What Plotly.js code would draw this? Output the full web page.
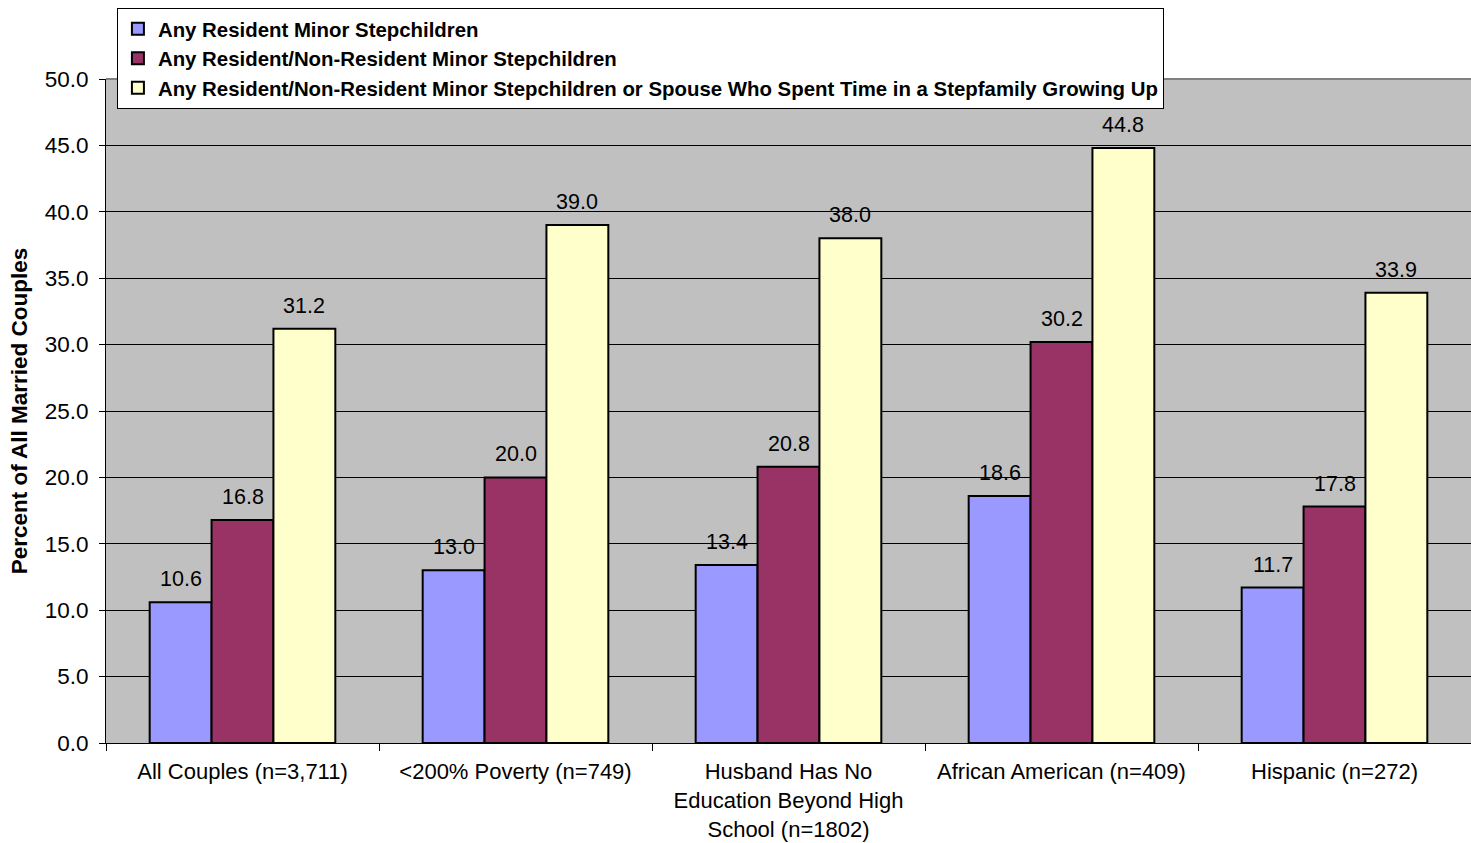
<!DOCTYPE html>
<html><head><meta charset="utf-8">
<script src="https://cdn.plot.ly/plotly-3.0.1.min.js"></script>
<style>html,body{margin:0;padding:0;background:#fff}#chart{width:1471px;height:843px}</style>
</head><body><div id="chart"></div>
<script>
const categories = ["All Couples (n=3,711)", "<200% Poverty (n=749)", "Husband Has No<br>Education Beyond High<br>School (n=1802)", "African American (n=409)", "Hispanic (n=272)"];
const seriesNames = ["Any Resident Minor Stepchildren", "Any Resident/Non-Resident Minor Stepchildren", "Any Resident/Non-Resident Minor Stepchildren or Spouse Who Spent Time in a Stepfamily Growing Up"];
const residentMinor = [10.6, 13.0, 13.4, 18.6, 11.7];
const residentNonResident = [16.8, 20.0, 20.8, 30.2, 17.8];
const orSpouseStepfamily = [31.2, 39.0, 38.0, 44.8, 33.9];
const colors = ["#9999FF", "#993366", "#FFFFCC"];
const seriesValues = [residentMinor, residentNonResident, orSpouseStepfamily];

const traces = seriesValues.map((vals, i) => ({
  type: 'bar', name: seriesNames[i], x: categories, y: vals, legendgroup: 'g' + i,
  marker: {color: colors[i], line: {color: '#000', width: 2}},
  hoverinfo: 'x+y'
}));

const font = "Liberation Sans, Arial, sans-serif";
const annotations = [];
const shifts = [-61.5, 0, 61.5];
seriesValues.forEach((vals, i) => {
  vals.forEach((v, j) => {
    annotations.push({x: categories[j], y: v, xref: 'x', yref: 'y', text: v.toFixed(1),
      showarrow: false, xshift: shifts[i], yanchor: 'bottom', yshift: 9,
      font: {family: font, size: 21.5, color: '#000'}});
  });
});

const layout = {
  width: 1471, height: 843,
  margin: {l: 106, r: 0, t: 79, b: 100},
  paper_bgcolor: '#fff', plot_bgcolor: '#C0C0C0',
  font: {family: font, size: 22, color: '#000'},
  barmode: 'group', bargap: 0.32, bargroupgap: 0,
  showlegend: true,
  legend: {x: 0.008, xanchor: 'left', y: 1.107, yanchor: 'top', bgcolor: '#fff',
    bordercolor: '#000', borderwidth: 1, font: {family: font, size: 20.4, color: '#000', weight: 'bold'},
    tracegroupgap: 7, itemwidth: 30, traceorder: 'normal'},
  xaxis: {type: 'category', tickson: 'boundaries', ticks: 'outside', ticklen: 7, tickcolor: '#000',
    showline: true, linecolor: '#000', linewidth: 1, showgrid: false, ticklabelstandoff: 9,
    tickfont: {family: font, size: 22, color: '#000'}},
  yaxis: {range: [0, 50], dtick: 5, tickformat: '.1f', ticks: 'outside', ticklen: 6, tickcolor: '#000',
    showline: true, linecolor: '#000', linewidth: 1, showgrid: true, gridcolor: '#000', gridwidth: 1,
    zeroline: false, tickfont: {family: font, size: 22.5, color: '#000'}, ticklabelstandoff: 6,
    title: {text: 'Percent of All Married Couples', font: {family: font, size: 22.5, color: '#000', weight: 'bold'}, standoff: 10}},
  annotations: annotations,
  shapes: [{type: 'line', xref: 'paper', yref: 'paper', x0: 0, x1: 1, y0: 1, y1: 1, line: {color: '#808080', width: 2}}]
};
Plotly.newPlot('chart', traces, layout, {displayModeBar: false});
</script></body></html>
